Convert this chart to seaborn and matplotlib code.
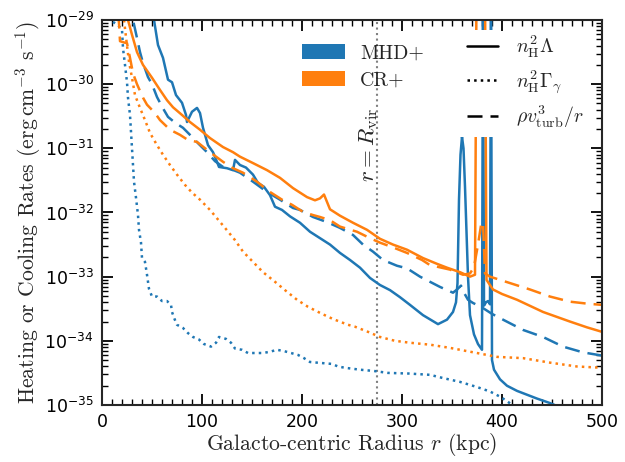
import matplotlib
matplotlib.use("Agg")
import matplotlib.pyplot as plt
from matplotlib.font_manager import FontProperties
from matplotlib.lines import Line2D
from matplotlib.patches import Patch
from matplotlib.path import Path
from matplotlib.ticker import MultipleLocator, LogLocator, FixedLocator
import numpy as np
import pandas as pd
import seaborn as sns

# radius in kpc, rates as log10(erg cm^-3 s^-1)
mhd_cool_r = [45, 52, 56, 61, 66, 70, 74, 80, 84, 85, 90, 95, 98, 101, 106, 111, 115, 117, 125, 131,
              133, 138, 144, 151, 156, 162, 168, 173, 180, 188, 198, 208, 218, 228, 238, 248, 258, 268,
              278, 288, 298, 308, 321, 336, 345, 351, 354, 355.5, 357, 358.5, 360, 361.5, 363, 366,
              368, 372, 376, 380, 381, 382, 384, 386, 388, 389, 390, 392, 398, 405, 415, 425, 435,
              448, 460]
mhd_cool = [-28.7, -29.0, -29.39, -29.59, -29.93, -29.97, -30.17, -30.29, -30.48, -30.59, -30.43,
            -30.37, -30.45, -30.68, -30.95, -31.06, -31.21, -31.29, -31.31, -31.34, -31.18, -31.26,
            -31.3, -31.41, -31.54, -31.6, -31.73, -31.91, -31.96, -32.06, -32.16, -32.30, -32.40,
            -32.50, -32.63, -32.74, -32.86, -33.02, -33.13, -33.21, -33.32, -33.44, -33.60, -33.74,
            -33.67, -33.55, -33.4, -33.1, -31.8, -31.1, -30.82, -31.0, -31.6, -33.0, -33.6, -33.9,
            -34.05, -34.14, -28.5, -33.45, -33.4, -33.38, -33.43, -28.5, -34.3, -34.45, -34.6,
            -34.7, -34.78, -34.84, -34.9, -34.97, -35.05]

mhd_heat_r = [11, 16, 20, 21, 23, 25, 26, 28, 29, 30, 31, 32, 34, 36, 37, 39, 40, 43, 45, 47, 50, 55,
              60, 65, 69, 70, 72, 75, 81, 86, 91, 97, 102, 109, 114, 117, 124, 129, 133, 140, 146,
              161, 168, 175, 182, 189, 196, 202, 208, 215, 230, 236, 243, 258, 272, 286, 307, 328,
              341, 358, 375, 388, 398, 405, 412]
mhd_heat = [-29.03, -29.08, -29.15, -29.44, -29.70, -29.97, -30.21, -30.48, -30.74, -31.0, -31.26,
            -31.52, -31.77, -32.04, -32.27, -32.47, -32.71, -32.77, -32.97, -33.19, -33.31, -33.31,
            -33.38, -33.38, -33.44, -33.55, -33.64, -33.75, -33.80, -33.88, -33.94, -33.98, -34.05,
            -34.09, -34.03, -33.94, -33.97, -34.03, -34.12, -34.14, -34.19, -34.19, -34.17, -34.14,
            -34.16, -34.19, -34.22, -34.27, -34.33, -34.34, -34.36, -34.40, -34.42, -34.45, -34.47,
            -34.50, -34.51, -34.53, -34.58, -34.64, -34.72, -34.79, -34.87, -34.94, -35.02]

mhd_turb_r = [25, 31, 35, 38, 41, 46, 50, 55, 60, 66, 73, 81, 88, 96, 105, 113, 121, 130, 138, 151,
              165, 178, 191, 198, 211, 225, 238, 251, 261, 271, 281, 295, 305, 318, 338, 351, 355,
              359, 362, 366, 371, 380, 390, 401, 421, 441, 461, 481, 500]
mhd_turb = [-28.7, -29.0, -29.28, -29.5, -29.67, -29.89, -30.0, -30.2, -30.35, -30.51, -30.6, -30.68,
            -30.79, -30.92, -31.06, -31.2, -31.29, -31.33, -31.38, -31.52, -31.68, -31.80, -31.93,
            -31.96, -32.07, -32.15, -32.24, -32.35, -32.50, -32.61, -32.74, -32.83, -32.87, -33.0,
            -33.16, -33.25, -33.2, -33.14, -33.25, -33.36, -33.41, -33.48, -33.58, -33.67, -33.83,
            -33.94, -34.09, -34.18, -34.23]

cr_cool_r = [18, 26, 30, 35, 41, 50, 58, 65, 71, 80, 88, 98, 108, 121, 131, 138, 151, 165, 178, 191,
             205, 213, 218, 222, 228, 238, 251, 265, 278, 291, 305, 321, 335, 345, 358, 368, 373,
             374.5, 383, 384.5, 391, 400, 415, 441, 468, 485, 500]
cr_cool = [-28.7, -29.0, -29.23, -29.5, -29.70, -29.9, -30.09, -30.25, -30.36, -30.48, -30.59, -30.71,
           -30.84, -30.98, -31.06, -31.13, -31.23, -31.34, -31.46, -31.62, -31.76, -31.81, -31.78,
           -31.72, -31.95, -32.05, -32.16, -32.27, -32.41, -32.5, -32.58, -32.71, -32.8, -32.86,
           -32.93, -33.0, -32.97, -28.5, -28.5, -33.05, -33.2, -33.27, -33.36, -33.55, -33.7,
           -33.79, -33.86]

cr_heat_r = [22, 25, 27, 30, 33, 38, 43, 48, 55, 61, 68, 75, 83, 90, 98, 108, 123, 133, 141, 151,
             161, 173, 183, 195, 206, 220, 231, 246, 253, 266, 278, 293, 308, 328, 348, 375, 395,
             421, 448, 475, 500]
cr_heat = [-29.0, -29.4, -29.65, -29.9, -30.17, -30.37, -30.56, -30.76, -30.95, -31.10, -31.26,
           -31.41, -31.57, -31.69, -31.8, -31.96, -32.24, -32.43, -32.61, -32.77, -32.93, -33.08,
           -33.21, -33.36, -33.47, -33.58, -33.66, -33.75, -33.78, -33.86, -33.94, -34.0, -34.03,
           -34.06, -34.11, -34.19, -34.25, -34.27, -34.34, -34.40, -34.42]

cr_turb_r = [16, 17, 18, 22, 25, 28, 31, 35, 41, 45, 53, 58, 68, 78, 86, 95, 108, 121, 131, 141, 155,
             168, 180, 190, 201, 211, 218, 228, 238, 255, 268, 278, 292, 305, 320, 328, 348, 361,
             368, 372, 376, 379, 381, 383, 388, 408, 428, 448, 468, 485, 500]
cr_turb = [-28.9, -29.05, -29.33, -29.35, -29.36, -29.59, -29.83, -30.0, -30.21, -30.32, -30.45,
           -30.56, -30.71, -30.79, -30.87, -30.90, -31.06, -31.21, -31.31, -31.38, -31.52, -31.68,
           -31.80, -31.88, -31.99, -32.04, -32.07, -32.12, -32.22, -32.30, -32.40, -32.47, -32.55,
           -32.63, -32.74, -32.82, -32.89, -32.97, -32.95, -32.85, -32.5, -32.2, -32.15, -32.95,
           -33.0, -33.10, -33.2, -33.31, -33.39, -33.42, -33.44]

r_vir = 275
runs = ["MHD+", "CR+"]
terms = ["cool", "heat", "turb"]
term_labels = [r"$n_{\rm H}^2\Lambda$", r"$n_{\rm H}^2\Gamma_\gamma$", r"$\rho v_{\rm turb}^3/r$"]
y_decades = [-35, -34, -33, -32, -31, -30, -29]

series = {
    ("MHD+", "cool"): (mhd_cool_r, mhd_cool),
    ("MHD+", "heat"): (mhd_heat_r, mhd_heat),
    ("MHD+", "turb"): (mhd_turb_r, mhd_turb),
    ("CR+", "cool"): (cr_cool_r, cr_cool),
    ("CR+", "heat"): (cr_heat_r, cr_heat),
    ("CR+", "turb"): (cr_turb_r, cr_turb),
}
frames = []
for (run, term), (r, lg) in series.items():
    frames.append(pd.DataFrame({"r": r, "rate": 10.0 ** np.array(lg), "run": run, "term": term}))
df = pd.concat(frames, ignore_index=True)

sns.set_style("ticks")
plt.rcParams.update({
    "mathtext.fontset": "dejavusans",
    "axes.unicode_minus": False,
    "axes.linewidth": 1.5,
    "xtick.direction": "in", "ytick.direction": "in",
    "xtick.top": True, "ytick.right": True,
    "xtick.major.size": 8, "ytick.major.size": 8,
    "xtick.minor.size": 4, "ytick.minor.size": 4,
    "xtick.major.width": 1.3, "ytick.major.width": 1.3,
    "xtick.minor.width": 1.0, "ytick.minor.width": 1.0,
    "xtick.color": "black", "ytick.color": "black",
})

palette = {"MHD+": "#1f77b4", "CR+": "#ff7f0e"}
dashes = {"cool": "", "heat": (1, 1.65), "turb": (6, 3.2)}
label_font = FontProperties(family="cmr10", size=15.6, math_fontfamily="cm")
legend_font = FontProperties(family="cmr10", size=14.3, math_fontfamily="cm")

fig = plt.figure(figsize=(6.25, 4.62), dpi=100)
ax = fig.add_axes([0.1632, 0.1234, 0.8, 0.8333])
ax.set_yscale("log")

sns.lineplot(data=df, x="r", y="rate", hue="run", style="term", palette=palette,
             dashes=dashes, estimator=None, sort=False, linewidth=1.8, legend=False, ax=ax)

# clip the curves to the axes minus the box behind the line-style legend
x0, y0, x1, y1 = 0.706, 0.696, 0.985, 0.974
clip = Path([(0, 0), (1, 0), (1, 1), (0, 1), (0, 0),
             (x0, y0), (x0, y1), (x1, y1), (x1, y0), (x0, y0)],
            [Path.MOVETO, Path.LINETO, Path.LINETO, Path.LINETO, Path.CLOSEPOLY,
             Path.MOVETO, Path.LINETO, Path.LINETO, Path.LINETO, Path.CLOSEPOLY])
for line in ax.lines:
    line.set_clip_path(clip, ax.transAxes)

ax.axvline(r_vir, color="gray", linestyle=":", linewidth=1.5, zorder=1)
ax.text(r_vir - 8, 10 ** -30.95, r"$r = R_{\rm vir}$", rotation=90, ha="center", va="center",
        fontsize=16.5, math_fontfamily="cm")

ax.set_xlim(0, 500)
ax.set_ylim(1e-35, 1e-29)
ax.xaxis.set_major_locator(MultipleLocator(100))
ax.xaxis.set_minor_locator(MultipleLocator(10))
ax.yaxis.set_major_locator(FixedLocator([10.0 ** e for e in y_decades]))
ax.yaxis.set_minor_locator(LogLocator(base=10, subs=np.arange(2, 10)))
ax.tick_params(labelsize=12.5, pad=6)
ax.set_xlabel(r"Galacto-centric Radius $r$ (kpc)", fontproperties=label_font, labelpad=0)
ax.set_ylabel(r"Heating or Cooling Rates (erg$\,$cm$^{-3}$ s$^{-1}$)", fontproperties=label_font,
              labelpad=1)

run_handles = [Patch(facecolor=palette[r], edgecolor="none") for r in runs]
leg1 = ax.legend(run_handles, runs, loc="upper left", bbox_to_anchor=(0.365, 0.985), prop=legend_font,
                 frameon=False, handlelength=2.15, handleheight=0.8, labelspacing=0.45,
                 handletextpad=0.75)
ax.add_artist(leg1)

term_handles = [Line2D([], [], color="black", linewidth=1.8, linestyle="-"),
                Line2D([], [], color="black", linewidth=1.8, dashes=dashes["heat"]),
                Line2D([], [], color="black", linewidth=1.8, dashes=dashes["turb"])]
ax.legend(term_handles, term_labels, loc="upper right", bbox_to_anchor=(1.0, 1.011),
          prop=legend_font, frameon=False, handlelength=1.6, handletextpad=0.9, labelspacing=0.4)

fig.savefig("out.png", dpi=100)
